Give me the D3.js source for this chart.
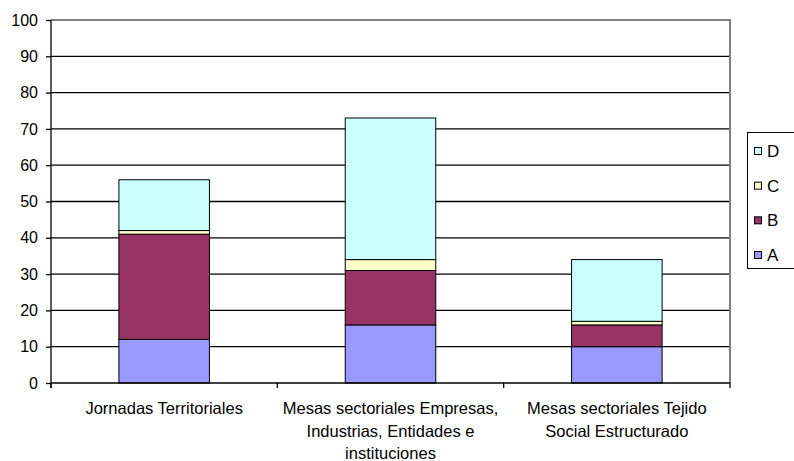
<!DOCTYPE html>
<html>
<head>
<meta charset="utf-8">
<script src="https://cdn.jsdelivr.net/npm/d3@7"></script>
<style>
  html, body { margin: 0; padding: 0; background: #fff; }
  svg { display: block; font-family: "Liberation Sans", Arial, sans-serif; }
</style>
</head>
<body>
<svg id="chart" width="794" height="461"></svg>
<script>
const categories = [
  "Jornadas Territoriales",
  "Mesas sectoriales Empresas,\nIndustrias, Entidades e\ninstituciones",
  "Mesas sectoriales Tejido\nSocial Estructurado"
];
const seriesNames = ["A", "B", "C", "D"];
const seriesA = [12, 16, 10];
const seriesB = [29, 15, 6];
const seriesC = [1, 3, 1];
const seriesD = [14, 39, 17];
const seriesColors = ["#9999FF", "#993366", "#FFFFCC", "#CCFFFF"];
const yTicks = [0, 10, 20, 30, 40, 50, 60, 70, 80, 90, 100];

const svg = d3.select("#chart");
const pLeft = 51, pRight = 730, pTop = 20, pBottom = 383;

const x = d3.scaleBand().domain(categories).range([pLeft, pRight])
  .paddingInner(0.6).paddingOuter(0.3);
const y = d3.scaleLinear().domain([0, 100]).range([pBottom, pTop]);

const rows = categories.map((c, i) => ({
  cat: c, A: seriesA[i], B: seriesB[i], C: seriesC[i], D: seriesD[i]
}));
const stacked = d3.stack().keys(seriesNames)(rows);

// gridlines
svg.append("g").selectAll("line")
  .data(yTicks.filter(t => t > 0 && t < 100))
  .join("line")
  .attr("x1", pLeft).attr("x2", pRight)
  .attr("y1", d => y(d)).attr("y2", d => y(d))
  .attr("stroke", "#000").attr("stroke-width", 1.3);

// plot border top and right (gray)
svg.append("path")
  .attr("d", `M${pLeft},${y(100)}H${pRight}V${pBottom}`)
  .attr("fill", "none").attr("stroke", "#808080").attr("stroke-width", 2);

// bars
svg.append("g").selectAll("g")
  .data(stacked)
  .join("g")
  .attr("fill", (d, i) => seriesColors[i])
  .selectAll("rect")
  .data(d => d)
  .join("rect")
  .attr("x", d => x(d.data.cat))
  .attr("width", x.bandwidth())
  .attr("y", d => y(d[1]))
  .attr("height", d => y(d[0]) - y(d[1]))
  .attr("stroke", "#000").attr("stroke-width", 1);

// y axis
const yAxis = d3.axisLeft(y).tickValues(yTicks).tickSize(5).tickPadding(8);
const gy = svg.append("g").attr("transform", `translate(${pLeft},0)`).call(yAxis);
gy.select(".domain").attr("stroke", "#000").attr("stroke-width", 1.3)
  .attr("d", `M0,${pTop}V${pBottom + 5}`);
gy.selectAll(".tick line").attr("stroke", "#000").attr("stroke-width", 1.3);
gy.selectAll(".tick text").attr("font-size", 16).attr("fill", "#000")
  .attr("font-family", "'Liberation Sans', Arial, sans-serif");

// x axis line and ticks at band boundaries
svg.append("line").attr("x1", pLeft).attr("x2", pRight)
  .attr("y1", pBottom).attr("y2", pBottom)
  .attr("stroke", "#000").attr("stroke-width", 1.3);
const boundaries = [pLeft].concat(categories.map(c => x(c) + x.bandwidth() / 2 + x.step() / 2));
svg.append("g").selectAll("line").data(boundaries).join("line")
  .attr("x1", d => d).attr("x2", d => d)
  .attr("y1", pBottom).attr("y2", pBottom + 5)
  .attr("stroke", "#000").attr("stroke-width", 1.3);

// category labels
const lab = svg.append("g").selectAll("text").data(categories).join("text")
  .attr("text-anchor", "middle")
  .attr("font-size", 16.5)
  .attr("fill", "#000")
  .attr("transform", d => `translate(${x(d) + x.bandwidth() / 2},${414})`);
lab.selectAll("tspan").data(d => d.split("\n")).join("tspan")
  .attr("x", 0).attr("dy", (d, i) => i === 0 ? 0 : 22.5)
  .text(d => d);

// legend
const lg = svg.append("g");
lg.append("rect").attr("x", 747.5).attr("y", 132.5).attr("width", 60).attr("height", 136)
  .attr("fill", "#fff").attr("stroke", "#000").attr("stroke-width", 1);
const legendItems = seriesNames.map((n, i) => ({ n, c: seriesColors[i] })).reverse();
const ly = d3.scalePoint().domain(legendItems.map(d => d.n)).range([151, 255]);
const li = lg.selectAll("g.item").data(legendItems).join("g")
  .attr("transform", d => `translate(754,${ly(d.n)})`);
li.append("rect").attr("x", 0.5).attr("y", -3.5).attr("width", 7).attr("height", 7)
  .attr("fill", d => d.c).attr("stroke", "#000").attr("stroke-width", 1);
li.append("text").attr("x", 13).attr("y", 6).attr("font-size", 17)
  .attr("fill", "#000").text(d => d.n);
</script>
</body>
</html>
